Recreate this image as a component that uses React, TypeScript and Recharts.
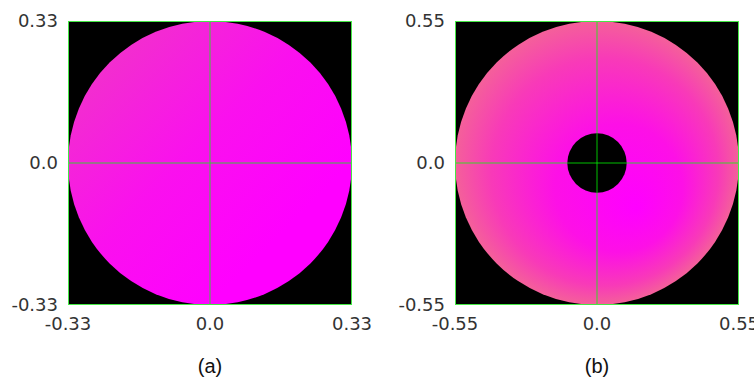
import React from "react";
import { CartesianGrid, Scatter, ScatterChart, XAxis, YAxis } from "recharts";

// panel (a): filled disk
const ticksA = [-0.33, 0, 0.33];
const diskA = [{ x: 0, y: 0, r: 0.33 }];
const holeA: { x: number; y: number; r: number }[] = [];

// panel (b): annulus
const ticksB = [-0.55, 0, 0.55];
const diskB = [{ x: 0, y: 0, r: 0.55 }];
const holeB = [{ x: 0, y: 0, r: 0.115 }];

const PLOT = 284;
const BORDER = "#45e845";

const fmt = (v: number) => (v === 0 ? "0.0" : String(v));
const noDot = () => <g />;

interface PanelProps {
  extent: number;
  ticks: number[];
  disk: { x: number; y: number; r: number }[];
  hole: { x: number; y: number; r: number }[];
  gradient: React.ReactNode;
  gradId: string;
  left: number;
  width: number;
  marginLeft: number;
  caption: string;
}

function Panel({ extent, ticks, disk, hole, gradient, gradId, left, width, marginLeft, caption }: PanelProps) {
  const pxPerUnit = PLOT / (2 * extent);
  const tickStyle = { fontFamily: "DejaVu Sans", fontSize: 18, fill: "#333" };
  const plotLeft = marginLeft + 60;
  const e = extent;
  const frame = [
    { x: -e, y: -e },
    { x: e, y: -e },
    { x: e, y: e },
    { x: -e, y: e },
    { x: -e, y: -e },
  ];
  const hLine = [
    { x: -e, y: 0 },
    { x: e, y: 0 },
  ];
  const vLine = [
    { x: 0, y: -e },
    { x: 0, y: e },
  ];
  return (
    <div style={{ position: "absolute", left, top: 0, width, height: 379 }}>
      <ScatterChart
        width={width}
        height={350}
        margin={{ top: 21, right: width - plotLeft - PLOT, bottom: 15, left: marginLeft }}
      >
        <defs>{gradient}</defs>
        <CartesianGrid fill="#000" horizontal={false} vertical={false} />
        <XAxis
          type="number"
          dataKey="x"
          domain={[-extent, extent]}
          ticks={ticks}
          tickFormatter={fmt}
          tickSize={0}
          tickMargin={12}
          height={30}
          tick={tickStyle}
          axisLine={false}
          interval={0}
          allowDataOverflow
        />
        <YAxis
          type="number"
          dataKey="y"
          domain={[-extent, extent]}
          ticks={ticks}
          tickFormatter={fmt}
          tickSize={0}
          tickMargin={10}
          width={60}
          tick={tickStyle}
          axisLine={false}
          interval={0}
          allowDataOverflow
        />
        <Scatter
          data={disk}
          isAnimationActive={false}
          shape={(p: any) => <circle cx={p.cx} cy={p.cy} r={p.payload.r * pxPerUnit} fill={`url(#${gradId})`} />}
        />
        <Scatter
          data={hole}
          isAnimationActive={false}
          shape={(p: any) => <circle cx={p.cx} cy={p.cy} r={p.payload.r * pxPerUnit} fill="#000" />}
        />
        <Scatter data={hLine} line={{ stroke: "#00ff00", strokeOpacity: 0.5, strokeWidth: 1.5 }} shape={noDot} isAnimationActive={false} />
        <Scatter data={vLine} line={{ stroke: "#00ff00", strokeOpacity: 0.5, strokeWidth: 1.5 }} shape={noDot} isAnimationActive={false} />
        <Scatter data={frame} line={{ stroke: BORDER, strokeWidth: 2, fill: "none" }} shape={noDot} isAnimationActive={false} />
      </ScatterChart>
      <div
        style={{
          position: "absolute",
          left: plotLeft,
          width: PLOT,
          top: 354,
          textAlign: "center",
          fontFamily: "Liberation Sans",
          fontSize: 20,
          color: "#111",
          lineHeight: "24px",
        }}
      >
        {caption}
      </div>
    </div>
  );
}

export default function App() {
  return (
    <div style={{ position: "absolute", left: 0, top: 0, width: 754, height: 379, overflow: "hidden", background: "#fff" }}>
      <Panel
        extent={0.33}
        ticks={ticksA}
        disk={diskA}
        hole={holeA}
        gradId="gA"
        gradient={
          <linearGradient id="gA" x1="0" y1="0" x2="1" y2="1">
            <stop offset={0} stopColor="#ee3cc0" />
            <stop offset={0.45} stopColor="#fa10ee" />
            <stop offset={0.75} stopColor="#ff00ff" />
            <stop offset={1} stopColor="#ff00ff" />
          </linearGradient>
        }
        left={0}
        width={380}
        marginLeft={8}
        caption="(a)"
      />
      <Panel
        extent={0.55}
        ticks={ticksB}
        disk={diskB}
        hole={holeB}
        gradId="gB"
        gradient={
          <radialGradient id="gB" cx="0.5" cy="0.5" r="0.5" fx="0.64" fy="0.66">
            <stop offset={0} stopColor="#ff00ff" />
            <stop offset={0.45} stopColor="#fd10e6" />
            <stop offset={0.8} stopColor="#f83ab8" />
            <stop offset={1} stopColor="#f4609a" />
          </radialGradient>
        }
        left={380}
        width={374}
        marginLeft={15}
        caption="(b)"
      />
    </div>
  );
}
